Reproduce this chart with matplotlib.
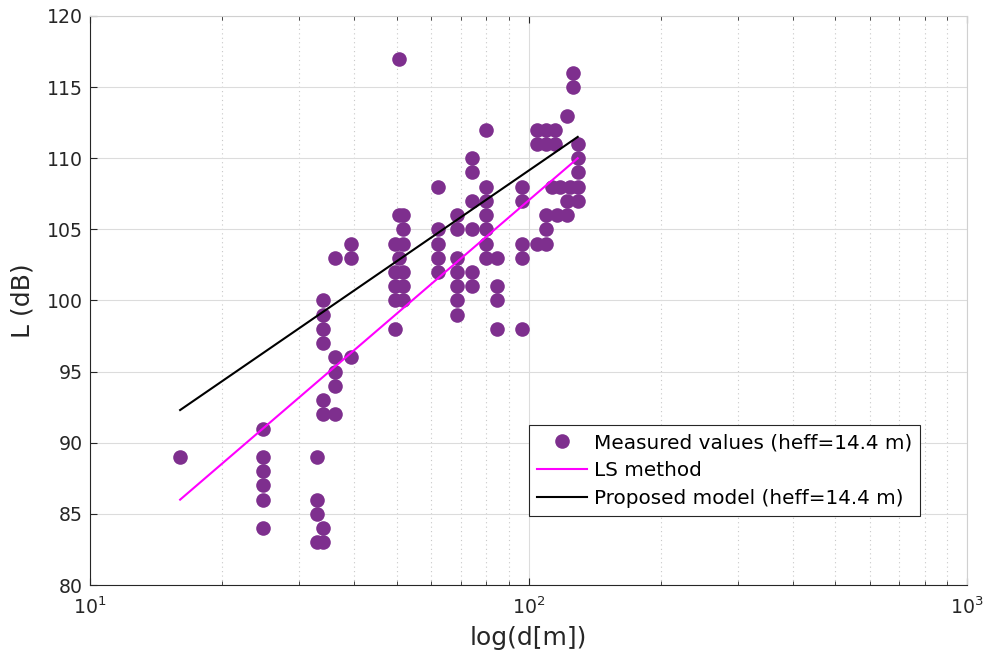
import numpy as np
import matplotlib.pyplot as plt
from matplotlib.ticker import LogLocator, NullFormatter

# measured points: distance (m) and the levels measured at that distance (dB)
dist = [16.05, 24.8, 33.0, 33.9, 36.1, 39.4, 49.5, 50.6, 51.6,
        62.0, 68.5, 74.1, 79.8, 84.5, 96.4, 104.3, 109.3, 112.9,
        114.7, 115.9, 117.7, 122.2, 124.1, 126.0, 129.4]
levels = [[89],
          [91, 89, 88, 87, 86, 84],
          [89, 86, 85, 83],
          [100, 99, 98, 97, 93, 92, 84, 83],
          [103, 96, 95, 94, 92],
          [104, 103, 96],
          [104, 102, 101, 100, 98],
          [117, 106, 103],
          [106, 105, 104, 102, 101, 100],
          [108, 105, 104, 103, 102],
          [106, 105, 103, 102, 101, 100, 99],
          [110, 109, 107, 105, 102, 101],
          [112, 108, 107, 106, 105, 104, 103],
          [103, 101, 100, 98],
          [108, 107, 104, 103, 98],
          [112, 111, 104],
          [112, 111, 106, 105, 104],
          [108],
          [112, 111],
          [106],
          [108],
          [113, 107, 106],
          [108],
          [116, 115],
          [111, 110, 109, 108, 107]]

# fitted lines (end points)
ls_d = [16.05, 129.4]
ls_L = [86.0, 110.0]
model_d = [16.05, 129.4]
model_L = [92.3, 111.5]

d_meas = []
L_meas = []
for d, ls in zip(dist, levels):
    for L in ls:
        d_meas.append(d)
        L_meas.append(L)

plt.rcParams.update({'font.family': 'DejaVu Sans', 'font.size': 14})

fig = plt.figure(figsize=(9.89, 6.66), dpi=100)
ax = fig.add_axes([0.091, 0.1216, 0.887, 0.8544])

ax.plot(d_meas, L_meas, 'o', color='#7E2F8E', markersize=10.5,
        markeredgewidth=0, label='Measured values (heff=14.4 m)', zorder=3)
ax.plot(ls_d, ls_L, color='#FF00FF', lw=1.5, label='LS method', zorder=4)
ax.plot(model_d, model_L, color='black', lw=1.5,
        label='Proposed model (heff=14.4 m)', zorder=4)

ax.set_xscale('log')
ax.set_xlim(10, 1000)
ax.set_ylim(80, 120)
ax.set_yticks(np.arange(80, 121, 5))
ax.xaxis.set_minor_locator(LogLocator(base=10, subs=np.arange(2, 10)))
ax.xaxis.set_minor_formatter(NullFormatter())

ax.grid(True, which='major', color='#dcdcdc', lw=0.8, zorder=0)
ax.grid(True, which='minor', axis='x', color='#c8c8c8', lw=0.8,
        linestyle=(0, (1, 3)), zorder=0)
ax.set_axisbelow(True)

ax.tick_params(which='both', direction='in', colors='#262626',
               top=True, right=False, labelsize=13.6)
ax.tick_params(axis='x', pad=8)
ax.tick_params(axis='y', pad=5)
ax.tick_params(which='major', length=5)
ax.tick_params(which='minor', length=3)
for side in ['left', 'bottom']:
    ax.spines[side].set_color('#262626')
for side in ['top', 'right']:
    ax.spines[side].set_color('#d0d0d0')

ax.set_xlabel('log(d[m])', fontsize=18, color='#262626', labelpad=6)
ax.set_ylabel('L (dB)', fontsize=18, color='#262626', labelpad=9)

leg = ax.legend(loc='upper left', bbox_to_anchor=(0.5, 0.281),
                fancybox=False, edgecolor='#262626', framealpha=1,
                fontsize=14.4, handlelength=2.5, borderaxespad=0,
                borderpad=0.4, handletextpad=0.35, labelspacing=0.45)
leg.get_frame().set_linewidth(0.8)

fig.savefig('out.png', dpi=100)
